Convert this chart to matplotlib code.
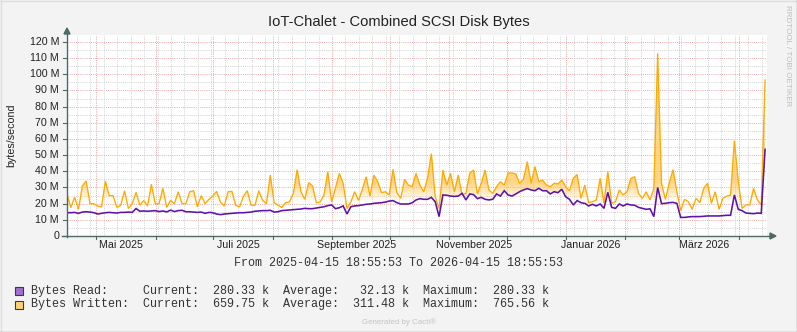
import matplotlib
matplotlib.use('Agg')
import matplotlib.pyplot as plt
import matplotlib.dates as mdates
import numpy as np
from datetime import datetime, timedelta
from matplotlib.patches import Rectangle, Polygon
from matplotlib.lines import Line2D

# ---------------- data ----------------
start = datetime(2025, 4, 15, 18, 55, 53)
end = datetime(2026, 4, 15, 18, 55, 53)
day_offsets = list(range(0, 365, 2))

# Bytes Written (M bytes/second)
written_mb = [
    26, 17.5, 24, 16.5, 31, 34, 20, 20, 18.5, 18,
    34, 25, 25, 17.7, 19, 28, 17, 20, 27, 19,
    22, 18.5, 32, 20, 20, 29.5, 17.7, 22, 20, 27.4,
    20, 20, 27.4, 28, 18, 25, 20, 22.7, 24.7, 27.6,
    21, 18.5, 27.4, 27.6, 19, 18, 24.7, 28, 19, 19,
    28, 22, 20, 37.7, 20.6, 19, 17.7, 20.6, 21, 26.4,
    41, 27.4, 22.7, 33, 31, 20.6, 21, 25.4, 39.8, 21,
    30, 38.8, 32.6, 17, 21, 27.4, 22, 28.8, 36.7, 24.7,
    37.7, 33.6, 26.8, 27.4, 25.4, 41.2, 26.8, 23.3, 35, 31.5,
    30.5, 38.8, 31.5, 27.4, 35.7, 51, 24.3, 17, 40.8, 31.5,
    38.8, 27.4, 37.7, 25.4, 26.4, 38.8, 40.8, 26, 32.6, 40.8,
    28.5, 26.4, 30.5, 33.6, 31.5, 39, 39, 38.4, 32.6, 35,
    46, 32.6, 42.9, 33.6, 34.6, 31.5, 30.5, 32.6, 32.2, 34.6,
    30.5, 28, 35.7, 38, 23.3, 31.5, 20.6, 21.2, 22.3, 35.7,
    20.2, 39.8, 20.2, 21.2, 28.5, 25.4, 27.4, 35.7, 36.7, 26.4,
    23.3, 27.4, 22.3, 29.5, 113, 32.6, 22.7, 32.6, 41, 27.4,
    15.7, 22.7, 21.2, 16.5, 23.3, 20.6, 29.5, 32.6, 20.2, 27.4,
    16.5, 23.3, 24.7, 25.4, 59, 34.2, 17.1, 19.2, 19.2, 29.5,
    22.3, 19.2, 96.5,
]

# Bytes Read (M bytes/second)
read_mb = [
    14.4, 14.4, 14.6, 14, 14.8, 15, 14.8, 14.4, 13.6, 14,
    14.4, 14.6, 14.4, 14.2, 14.6, 14.6, 14.8, 14.6, 17, 15.3,
    15.5, 15.3, 15.5, 15.7, 15.1, 15.5, 14.9, 16, 15.1, 15.7,
    15.9, 15, 15, 14.8, 14.6, 14.8, 14, 14.6, 14.4, 13.6,
    13.2, 13.6, 13.8, 14, 14.2, 14.4, 14.4, 14.6, 14.8, 15.3,
    15.5, 15.7, 15.7, 15.9, 14.8, 15, 15.7, 15.9, 16.1, 16.3,
    16.5, 16.7, 17.1, 16.9, 16.9, 17.3, 17.7, 18.1, 18.8, 19.2,
    16.9, 17.5, 18.6, 13.6, 18.1, 18.6, 18.8, 19.2, 19.6, 19.8,
    20.2, 20.4, 20.6, 21, 21.6, 21.9, 20.6, 19.8, 19.8, 19.8,
    20.6, 22.3, 23.1, 22.7, 22.7, 23.9, 21.2, 12, 25.4, 25.2,
    24.7, 24.5, 24.7, 26.4, 22.3, 26, 25.6, 23.1, 23.9, 22.7,
    22.3, 22.7, 26, 24.7, 28, 25.4, 24.7, 26, 27.4, 28.5,
    29.3, 28.5, 28, 29.5, 28, 28, 26, 27.4, 26.8, 28.9,
    24.3, 22.7, 19.2, 21.9, 20.6, 20.2, 18.6, 19.6, 18.6, 19.8,
    17.1, 27, 17.7, 17.1, 19.8, 18.6, 19.8, 19.2, 19, 17.7,
    17.1, 16.5, 16.8, 12, 30, 20, 20.2, 20.6, 20.8, 20.2,
    11.5, 11.5, 11.8, 12, 12, 12, 12.2, 12.4, 12.4, 12.4,
    12.4, 12.6, 12.8, 12.8, 25.4, 16.5, 15.7, 14.2, 14, 13.8,
    14.2, 14, 53.6,
]

y_ticks_mb = [0, 10, 20, 30, 40, 50, 60, 70, 80, 90, 100, 110, 120]
y_tick_labels = ['0', '10 M', '20 M', '30 M', '40 M', '50 M', '60 M', '70 M',
                 '80 M', '90 M', '100 M', '110 M', '120 M']
month_labels = ['Mai 2025', 'Juli 2025', 'September 2025', 'November 2025',
                'Januar 2026', 'März 2026']
month_label_dates = [datetime(2025, 5, 14), datetime(2025, 7, 14), datetime(2025, 9, 14),
                     datetime(2025, 11, 14), datetime(2026, 1, 14), datetime(2026, 3, 14)]

title = 'IoT-Chalet - Combined SCSI Disk Bytes'
ylabel = 'bytes/second'
range_text = 'From 2025-04-15 18:55:53 To 2026-04-15 18:55:53'
legend_lines = [
    'Bytes Read:     Current:  280.33 k  Average:   32.13 k  Maximum:  280.33 k',
    'Bytes Written:  Current:  659.75 k  Average:  311.48 k  Maximum:  765.56 k',
]

# ---------------- figure ----------------
W, H = 797, 332
fig = plt.figure(figsize=(W / 100, H / 100), dpi=100)
fig.patch.set_facecolor('#F3F3F3')

def fx(x):
    return x / W

def fy(y):
    return 1 - y / H

PL, PR, PT, PB = 67, 767, 35, 236
ax = fig.add_axes([fx(PL), fy(PB), (PR - PL) / W, (PB - PT) / H])
ax.set_facecolor('white')
for s in ax.spines.values():
    s.set_visible(False)
ax.set_xticks([])
ax.set_yticks([])

x0 = mdates.date2num(start)
x1 = mdates.date2num(end)
ymax = (PB - PT) / 1.6167
ax.set_xlim(x0, x1)
ax.set_ylim(0, ymax)

minor_c = '#D2D2D2'
major_c = '#EBA8A8'
dot = (0, (1, 1.2))

# horizontal grid
for v in range(5, 125, 5):
    c = major_c if v % 10 == 0 else minor_c
    ax.axhline(v, color=c, lw=0.7, ls=dot, zorder=1)

# vertical grid: weekly (Mondays) and months
d = datetime(2025, 4, 21)
while d < end:
    if d.day != 1:
        ax.axvline(mdates.date2num(d), color=minor_c, lw=0.7, ls=dot, zorder=1)
    d += timedelta(days=7)
month_starts = []
for y_, m_ in [(2025, m) for m in range(5, 13)] + [(2026, m) for m in range(1, 5)]:
    month_starts.append(datetime(y_, m_, 1))
for ms in month_starts:
    ax.axvline(mdates.date2num(ms), color=major_c, lw=0.7, ls=dot, zorder=1)

# data
xs = mdates.date2num([start + timedelta(days=o) for o in day_offsets])
w = np.array(written_mb, dtype=float)
r = np.array(read_mb, dtype=float)

# gradient fill between read and written
verts = list(zip(xs, w)) + list(zip(xs[::-1], r[::-1]))
clip = Polygon(verts, closed=True, facecolor='none', edgecolor='none')
ax.add_patch(clip)
yy = np.linspace(0, ymax, 400)
alpha = np.clip((yy - 21.0) / 12.0, 0, 1) * 0.75
grad = np.zeros((400, 2, 4))
grad[..., 0] = 1.0
grad[..., 1] = 200 / 255
grad[..., 2] = 95 / 255
grad[..., 3] = alpha[:, None]
im = ax.imshow(grad, extent=[x0, x1, 0, ymax], origin='lower', aspect='auto',
               interpolation='bilinear', zorder=2)
im.set_clip_path(clip)

ax.plot(xs, w, color='#FFAA00', lw=0.95, zorder=3, solid_joinstyle='miter')
ax.plot(xs, r, color='#5E12A8', lw=1.15, zorder=4, solid_joinstyle='miter')

# ---------------- axes decorations (figure pixel coords) ----------------
axis_c = '#4D6A66'
T = fig.transFigure
fig.add_artist(Line2D([fx(PL), fx(PL)], [fy(PB + 1), fy(31)], color=axis_c, lw=1.0, transform=T))
fig.add_artist(Polygon([(fx(PL), fy(28)), (fx(PL - 3), fy(34)), (fx(PL + 3), fy(34))],
                       closed=True, color=axis_c, transform=T))
fig.add_artist(Line2D([fx(62), fx(771)], [fy(PB), fy(PB)], color=axis_c, lw=1.0, transform=T))
fig.add_artist(Polygon([(fx(776), fy(PB)), (fx(770), fy(PB - 3)), (fx(770), fy(PB + 3))],
                       closed=True, color=axis_c, transform=T))

font = 'Liberation Sans'
mono = 'Liberation Mono'
for v, lab in zip(y_ticks_mb, y_tick_labels):
    ypix = PB - v * 1.6167
    fig.add_artist(Line2D([fx(63), fx(PL)], [fy(ypix), fy(ypix)], color=axis_c, lw=0.8, transform=T))
    fig.text(fx(59), fy(ypix), lab, ha='right', va='center', fontsize=7.7,
             family=font, color='#222222')

# x ticks
for ms in month_starts:
    xp = PL + (mdates.date2num(ms) - x0) / (x1 - x0) * (PR - PL)
    fig.add_artist(Line2D([fx(xp), fx(xp)], [fy(PB), fy(PB + 3)], color=axis_c, lw=0.8, transform=T))
for lab, ld in zip(month_labels, month_label_dates):
    xp = PL + (mdates.date2num(ld) - x0) / (x1 - x0) * (PR - PL)
    fig.text(fx(xp), fy(245), lab, ha='center', va='center', fontsize=7.7,
             family=font, color='#222222')

fig.text(fx(398.5), fy(22), title, ha='center', va='center', fontsize=10.6,
         family=font, color='#222222')
fig.text(fx(11.5), fy(135.5), ylabel, ha='center', va='center', rotation=90,
         fontsize=7.7, family=font, color='#222222')
fig.text(fx(788), fy(5), 'RRDTOOL / TOBI OETIKER', ha='center', va='top', rotation=270,
         fontsize=5.8, family=font, color='#BDBDBD')
fig.text(fx(398.5), fy(263), range_text, ha='center', va='center', fontsize=8.5,
         family=mono, color='#333333')

sw_cols = ['#A070D0', '#FFD27A']
for i, (line, sc) in enumerate(zip(legend_lines, sw_cols)):
    yc = 291 + i * 13.5
    fig.add_artist(Rectangle((fx(15), fy(yc + 4)), 8 / W, 8 / H, facecolor=sc,
                             edgecolor='#2F3F3F', lw=0.8, transform=T))
    fig.text(fx(30.5), fy(yc), line, ha='left', va='center', fontsize=8.5,
             family=mono, color='#333333')

fig.text(fx(398.5), fy(322), 'Generated by Cacti®', ha='center', va='center',
         fontsize=5.7, family=font, color='#C4C4C4')

# image border (bevel)
fig.add_artist(Line2D([0, 1], [1 - 0.5 / H, 1 - 0.5 / H], color='#DDDDDD', lw=1, transform=T))
fig.add_artist(Line2D([0.5 / W, 0.5 / W], [0, 1], color='#DDDDDD', lw=1, transform=T))
fig.add_artist(Line2D([0, 1], [0.5 / H, 0.5 / H], color='#9A9A9A', lw=1, transform=T))
fig.add_artist(Line2D([1 - 0.5 / W, 1 - 0.5 / W], [0, 1], color='#9A9A9A', lw=1, transform=T))

fig.savefig('out.png', dpi=100, facecolor=fig.get_facecolor())
